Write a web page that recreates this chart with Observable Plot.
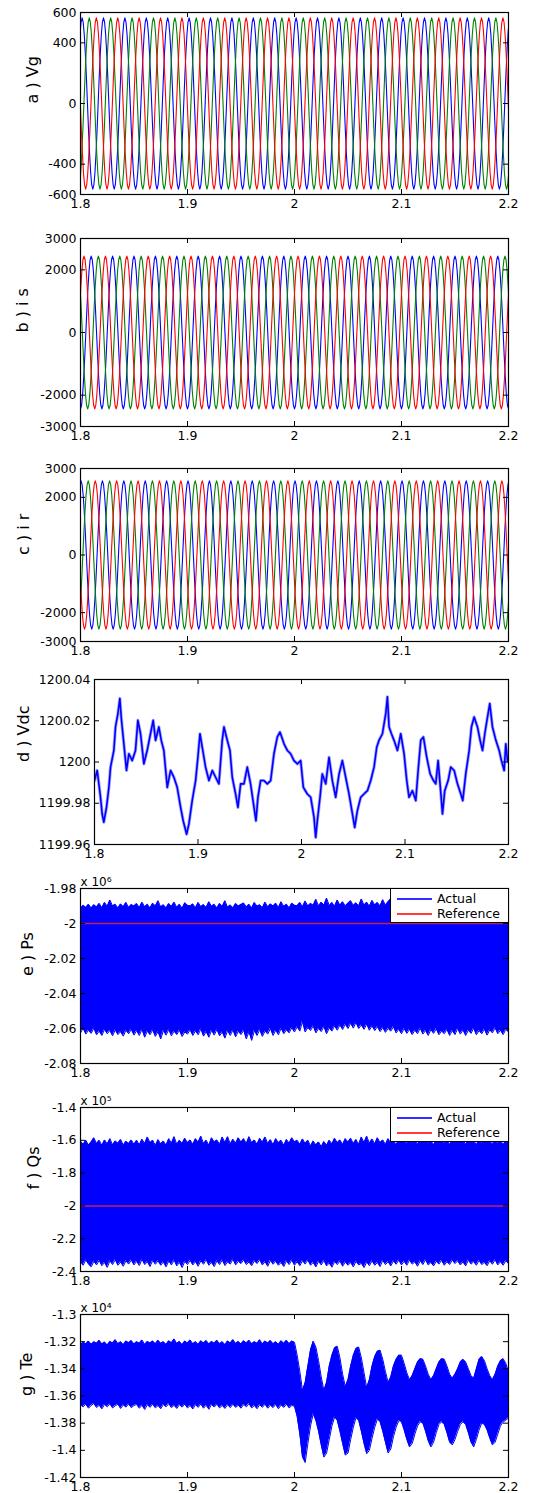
<!DOCTYPE html>
<html><head><meta charset="utf-8">
<script src="https://cdn.jsdelivr.net/npm/d3@7"></script>
<script src="https://cdn.jsdelivr.net/npm/@observablehq/plot@0.6"></script>
<style>
html,body{margin:0;padding:0;background:#fff;overflow:hidden;}
#root{position:relative;width:546px;height:1493px;font-family:"DejaVu Sans",sans-serif;}
.legend{position:absolute;background:#fff;border:1px solid #000;box-sizing:border-box;font-size:12.5px;}
.legend .row{position:absolute;left:0;right:0;height:16px;}
.legend .sw{position:absolute;left:6px;width:35px;top:7px;height:1.5px;}
.legend .lb{position:absolute;left:46px;top:0;line-height:16px;white-space:nowrap;}
</style></head><body><div id="root"></div><script>
// ---------- shared axis data ----------
const X0 = 1.8, X1 = 2.2;
const xTicks = [1.8, 1.9, 2, 2.1, 2.2];
const phaseColors = ["#0000ff", "#008000", "#ff0000"];
const sampleStep = 0.001; // seconds between waveform samples (20 per 0.02 s cycle)

// ---------- a) Vg : one sampled cycle (from the peak) + first peak time of each phase ----------
const vgCycle = [565, 537, 457, 332, 175, 0, -175, -332, -457, -537, -565, -537, -457, -332, -175, 0, 175, 332, 457, 537];
const vgFirstPeak = [1.8015, 1.8082, 1.8148];
const vgTicks = [-600, -400, 0, 400, 600];

// ---------- b) is ----------
const isCycle = [2440, 2321, 1974, 1434, 754, 0, -754, -1434, -1974, -2321, -2440, -2321, -1974, -1434, -754, 0, 754, 1434, 1974, 2321];
const isFirstPeak = [1.8100, 1.7967, 1.8033];
const isTicks = [-3000, -2000, 0, 2000, 3000];

// ---------- c) ir ----------
const irCycle = [2570, 2444, 2079, 1511, 794, 0, -794, -1511, -2079, -2444, -2570, -2444, -2079, -1511, -794, 0, 794, 1511, 2079, 2444];
const irFirstPeak = [1.8005, 1.8072, 1.8138];
const irTicks = [-3000, -2000, 0, 2000, 3000];

// ---------- d) Vdc ----------
const vdcT = [1.8000,1.8026,1.8058,1.8074,1.8090,1.8116,1.8139,1.8155,1.8187,1.8203,1.8226,1.8245,1.8258,1.8277,1.8290,1.8309,1.8332,1.8364,1.8396,1.8419,1.8445,1.8477,1.8509,1.8541,1.8567,1.8590,1.8622,1.8645,1.8670,1.8703,1.8735,1.8767,1.8799,1.8832,1.8857,1.8890,1.8912,1.8944,1.8977,1.8999,1.9019,1.9041,1.9073,1.9106,1.9138,1.9170,1.9202,1.9234,1.9251,1.9283,1.9309,1.9331,1.9363,1.9386,1.9412,1.9444,1.9476,1.9508,1.9541,1.9560,1.9579,1.9605,1.9637,1.9670,1.9702,1.9734,1.9766,1.9792,1.9831,1.9863,1.9895,1.9927,1.9960,1.9992,2.0018,2.0056,2.0089,2.0121,2.0137,2.0153,2.0179,2.0201,2.0234,2.0266,2.0298,2.0330,2.0363,2.0395,2.0427,2.0459,2.0492,2.0514,2.0540,2.0572,2.0604,2.0637,2.0669,2.0701,2.0727,2.0749,2.0782,2.0814,2.0830,2.0846,2.0869,2.0894,2.0927,2.0959,2.0991,2.1017,2.1039,2.1072,2.1104,2.1127,2.1152,2.1178,2.1210,2.1243,2.1275,2.1297,2.1320,2.1352,2.1362,2.1384,2.1417,2.1442,2.1475,2.1507,2.1539,2.1558,2.1587,2.1620,2.1642,2.1668,2.1700,2.1726,2.1749,2.1771,2.1797,2.1819,2.1845,2.1878,2.1910,2.1932,2.1958,2.1974,2.1990,2.2000];
const vdcV = [1199.9910,1199.9959,1199.9829,1199.9748,1199.9708,1199.9780,1199.9877,1199.9975,1200.0056,1200.0170,1200.0234,1200.0308,1200.0218,1200.0121,1200.0056,1199.9959,1200.0040,1200.0007,1200.0056,1200.0202,1200.0137,1199.9991,1200.0056,1200.0137,1200.0202,1200.0105,1200.0170,1200.0105,1200.0056,1199.9877,1199.9959,1199.9926,1199.9877,1199.9780,1199.9715,1199.9650,1199.9699,1199.9813,1199.9910,1200.0023,1200.0137,1200.0072,1199.9975,1199.9910,1199.9959,1199.9926,1199.9894,1200.0105,1200.0170,1200.0105,1200.0056,1199.9926,1199.9845,1199.9780,1199.9894,1199.9894,1199.9975,1199.9894,1199.9780,1199.9715,1199.9829,1199.9910,1199.9910,1199.9894,1199.9910,1200.0040,1200.0121,1200.0145,1200.0088,1200.0056,1200.0040,1200.0007,1199.9991,1200.0007,1199.9877,1199.9845,1199.9829,1199.9732,1199.9634,1199.9715,1199.9829,1199.9942,1199.9894,1200.0023,1199.9910,1199.9829,1199.9942,1200.0007,1199.9926,1199.9845,1199.9748,1199.9683,1199.9764,1199.9829,1199.9845,1199.9861,1199.9910,1199.9975,1200.0072,1200.0105,1200.0137,1200.0234,1200.0316,1200.0170,1200.0137,1200.0105,1200.0056,1200.0137,1200.0040,1199.9910,1199.9829,1199.9861,1199.9813,1199.9959,1200.0105,1200.0121,1200.0023,1199.9942,1199.9910,1199.9894,1200.0007,1199.9813,1199.9748,1199.9861,1199.9910,1199.9975,1199.9959,1199.9894,1199.9845,1199.9813,1199.9942,1200.0056,1200.0170,1200.0218,1200.0170,1200.0105,1200.0056,1200.0137,1200.0218,1200.0283,1200.0170,1200.0105,1200.0056,1200.0007,1199.9959,1200.0088,1200.0007,1199.9999];
const vdcTicks = [1199.96, 1199.98, 1200, 1200.02, 1200.04];

// ---------- e) Ps (x 10^6), envelopes sampled evenly across 1.8..2.2 ----------
const psHi = [-1.9915,-1.9895,-1.9908,-1.9890,-1.9912,-1.9893,-1.9905,-1.9885,-1.9910,-1.9880,-1.9902,-1.9866,-1.9900,-1.9890,-1.9912,-1.9888,-1.9904,-1.9880,-1.9908,-1.9892,-1.9900,
-1.9886,-1.9910,-1.9878,-1.9905,-1.9890,-1.9912,-1.9884,-1.9900,-1.9870,-1.9906,-1.9893,-1.9911,-1.9886,-1.9903,-1.9878,-1.9908,-1.9890,-1.9914,-1.9882,-1.9896,
-1.9900,-1.9888,-1.9910,-1.9880,-1.9904,-1.9892,-1.9909,-1.9876,-1.9902,-1.9890,-1.9912,-1.9885,-1.9903,-1.9870,-1.9907,-1.9894,-1.9911,-1.9886,-1.9900,-1.9892,
-1.9883,-1.9906,-1.9890,-1.9912,-1.9880,-1.9902,-1.9893,-1.9910,-1.9878,-1.9905,-1.9888,-1.9900,-1.9884,-1.9909,-1.9876,-1.9903,-1.9890,-1.9911,-1.9884,-1.9896,
-1.9898,-1.9880,-1.9904,-1.9872,-1.9900,-1.9885,-1.9896,-1.9862,-1.9900,-1.9878,-1.9895,-1.9855,-1.9898,-1.9880,-1.9902,-1.9866,-1.9896,-1.9876,-1.9900,-1.9884,
-1.9870,-1.9897,-1.9882,-1.9900,-1.9860,-1.9895,-1.9878,-1.9902,-1.9868,-1.9894,-1.9880,-1.9900,-1.9864,-1.9896,-1.9875,-1.9858,-1.9898,-1.9880,-1.9900,-1.9886,
-1.9885,-1.9905,-1.9880,-1.9900,-1.9888,-1.9906,-1.9878,-1.9902,-1.9890,-1.9908,-1.9882,-1.9900,-1.9887,-1.9905,-1.9880,-1.9902,-1.9890,-1.9906,-1.9884,-1.9898,
-1.9900,-1.9888,-1.9905,-1.9880,-1.9902,-1.9890,-1.9906,-1.9884,-1.9900,-1.9888,-1.9904,-1.9882,-1.9900,-1.9890,-1.9905,-1.9885,-1.9902,-1.9890,-1.9900,-1.9895];
const psLo = [-2.0625,-2.0600,-2.0632,-2.0610,-2.0628,-2.0598,-2.0636,-2.0615,-2.0640,-2.0605,-2.0630,-2.0612,-2.0642,-2.0608,-2.0635,-2.0618,-2.0644,-2.0610,-2.0630,-2.0605,-2.0638,
-2.0612,-2.0640,-2.0604,-2.0650,-2.0615,-2.0636,-2.0608,-2.0645,-2.0618,-2.0660,-2.0612,-2.0638,-2.0606,-2.0642,-2.0615,-2.0635,-2.0610,-2.0646,-2.0620,-2.0632,
-2.0608,-2.0640,-2.0614,-2.0636,-2.0602,-2.0644,-2.0618,-2.0650,-2.0610,-2.0638,-2.0605,-2.0642,-2.0620,-2.0655,-2.0612,-2.0640,-2.0608,-2.0648,-2.0616,-2.0635,
-2.0610,-2.0660,-2.0618,-2.0668,-2.0612,-2.0640,-2.0606,-2.0645,-2.0615,-2.0632,-2.0600,-2.0640,-2.0610,-2.0636,-2.0598,-2.0630,-2.0608,-2.0625,-2.0596,-2.0620,
-2.0590,-2.0615,-2.0560,-2.0620,-2.0595,-2.0612,-2.0585,-2.0625,-2.0600,-2.0618,-2.0588,-2.0630,-2.0598,-2.0615,-2.0585,-2.0610,-2.0580,-2.0606,-2.0575,-2.0600,
-2.0570,-2.0598,-2.0565,-2.0600,-2.0580,-2.0605,-2.0575,-2.0610,-2.0585,-2.0612,-2.0590,-2.0618,-2.0595,-2.0622,-2.0600,-2.0615,-2.0590,-2.0625,-2.0605,-2.0630,
-2.0600,-2.0628,-2.0606,-2.0635,-2.0610,-2.0630,-2.0598,-2.0632,-2.0612,-2.0640,-2.0606,-2.0628,-2.0602,-2.0636,-2.0615,-2.0630,-2.0605,-2.0640,-2.0612,-2.0635,
-2.0600,-2.0632,-2.0608,-2.0640,-2.0610,-2.0628,-2.0598,-2.0636,-2.0612,-2.0630,-2.0604,-2.0638,-2.0608,-2.0625,-2.0596,-2.0630,-2.0610,-2.0635,-2.0605,-2.0620];
const psRef = -2;
const psTicks = [-2.08, -2.06, -2.04, -2.02, -2, -1.98];

// ---------- f) Qs (x 10^5) ----------
const qsHi = [-1.605,-1.625,-1.600,-1.630,-1.610,-1.585,-1.620,-1.600,-1.632,-1.598,-1.622,-1.590,-1.628,-1.604,-1.618,-1.595,-1.630,-1.606,-1.620,-1.598,-1.625,
-1.600,-1.628,-1.594,-1.620,-1.580,-1.615,-1.600,-1.632,-1.596,-1.622,-1.605,-1.630,-1.590,-1.618,-1.578,-1.625,-1.600,-1.620,-1.588,-1.615,
-1.598,-1.625,-1.590,-1.612,-1.575,-1.620,-1.600,-1.630,-1.585,-1.610,-1.598,-1.625,-1.580,-1.615,-1.578,-1.622,-1.594,-1.618,-1.585,-1.612,
-1.590,-1.620,-1.578,-1.615,-1.598,-1.625,-1.588,-1.612,-1.580,-1.620,-1.596,-1.628,-1.590,-1.615,-1.600,-1.632,-1.595,-1.618,-1.585,-1.610,
-1.600,-1.625,-1.592,-1.620,-1.600,-1.635,-1.605,-1.628,-1.610,-1.640,-1.608,-1.630,-1.600,-1.622,-1.588,-1.615,-1.598,-1.625,-1.590,-1.612,
-1.588,-1.620,-1.595,-1.625,-1.580,-1.615,-1.575,-1.618,-1.592,-1.622,-1.585,-1.615,-1.598,-1.625,-1.590,-1.618,-1.600,-1.628,-1.594,-1.615,
-1.592,-1.622,-1.585,-1.618,-1.598,-1.625,-1.590,-1.615,-1.580,-1.620,-1.600,-1.628,-1.594,-1.615,-1.586,-1.620,-1.600,-1.625,-1.592,-1.618,
-1.588,-1.615,-1.598,-1.625,-1.590,-1.618,-1.600,-1.628,-1.594,-1.620,-1.586,-1.615,-1.600,-1.625,-1.592,-1.620,-1.598,-1.628,-1.600,-1.615];
const qsLo = [-2.340,-2.362,-2.330,-2.355,-2.372,-2.338,-2.360,-2.332,-2.365,-2.345,-2.375,-2.335,-2.358,-2.328,-2.362,-2.342,-2.368,-2.335,-2.355,-2.330,-2.360,
-2.338,-2.364,-2.325,-2.358,-2.340,-2.370,-2.332,-2.356,-2.335,-2.362,-2.342,-2.372,-2.336,-2.360,-2.330,-2.366,-2.345,-2.376,-2.338,-2.358,
-2.332,-2.360,-2.340,-2.368,-2.334,-2.356,-2.328,-2.362,-2.345,-2.370,-2.335,-2.358,-2.330,-2.364,-2.342,-2.355,-2.325,-2.360,-2.338,-2.352,
-2.330,-2.358,-2.342,-2.365,-2.335,-2.352,-2.328,-2.360,-2.340,-2.368,-2.332,-2.356,-2.338,-2.362,-2.345,-2.370,-2.335,-2.358,-2.330,-2.362,
-2.340,-2.365,-2.335,-2.355,-2.330,-2.362,-2.345,-2.372,-2.338,-2.360,-2.332,-2.366,-2.348,-2.374,-2.340,-2.358,-2.335,-2.368,-2.342,-2.362,
-2.345,-2.372,-2.338,-2.360,-2.350,-2.376,-2.342,-2.365,-2.335,-2.362,-2.345,-2.370,-2.332,-2.358,-2.340,-2.366,-2.336,-2.356,-2.330,-2.360,
-2.338,-2.362,-2.330,-2.355,-2.342,-2.368,-2.335,-2.358,-2.328,-2.360,-2.345,-2.366,-2.338,-2.355,-2.332,-2.362,-2.340,-2.358,-2.330,-2.352,
-2.335,-2.360,-2.342,-2.366,-2.330,-2.355,-2.340,-2.362,-2.332,-2.358,-2.345,-2.365,-2.335,-2.356,-2.328,-2.360,-2.340,-2.362,-2.334,-2.352];
const qsRef = -2;
const qsTicks = [-2.4, -2.2, -2, -1.8, -1.6, -1.4];

// ---------- g) Te (x 10^4) ----------
const teHi = [-1.3222,-1.3205,-1.3215,-1.3195,-1.3220,-1.3200,-1.3212,-1.3190,-1.3218,-1.3202,-1.3225,-1.3198,-1.3210,-1.3185,-1.3215,-1.3200,-1.3222,-1.3195,-1.3208,-1.3192,-1.3218,
-1.3200,-1.3212,-1.3188,-1.3220,-1.3198,-1.3210,-1.3195,-1.3216,-1.3190,-1.3212,-1.3200,-1.3220,-1.3194,-1.3208,-1.3180,-1.3214,-1.3198,-1.3222,-1.3196,
-1.3210,-1.3188,-1.3216,-1.3200,-1.3220,-1.3194,-1.3210,-1.3192,-1.3218,-1.3198,-1.3212,-1.3190,-1.3216,-1.3200,-1.3222,-1.3195,-1.3210,-1.3185,-1.3214,-1.3198,
-1.3218,-1.3194,-1.3210,-1.3190,-1.3216,-1.3200,-1.3212,-1.3186,-1.3218,-1.3196,-1.3210,-1.3192,-1.3216,-1.3200,-1.3220,-1.3194,-1.3212,-1.3190,-1.3215,-1.3196,-1.3205,
-1.3300,-1.3420,-1.3560,-1.3500,-1.3380,-1.3260,-1.3197,-1.3240,-1.3340,-1.3460,-1.3560,-1.3500,-1.3380,-1.3300,-1.3245,-1.3234,-1.3320,-1.3440,-1.3530,-1.3480,
-1.3380,-1.3300,-1.3250,-1.3240,-1.3320,-1.3430,-1.3540,-1.3480,-1.3380,-1.3310,-1.3270,-1.3263,-1.3330,-1.3420,-1.3500,-1.3460,-1.3380,-1.3330,-1.3300,-1.3300,
-1.3360,-1.3430,-1.3480,-1.3450,-1.3400,-1.3350,-1.3325,-1.3330,-1.3380,-1.3440,-1.3480,-1.3450,-1.3400,-1.3350,-1.3325,-1.3330,-1.3380,-1.3440,-1.3470,-1.3440,
-1.3400,-1.3350,-1.3330,-1.3350,-1.3400,-1.3450,-1.3470,-1.3400,-1.3330,-1.3310,-1.3340,-1.3400,-1.3450,-1.3480,-1.3440,-1.3380,-1.3340,-1.3325,-1.3360,-1.3420];
const teLo = [-1.3665,-1.3680,-1.3660,-1.3690,-1.3670,-1.3655,-1.3685,-1.3668,-1.3695,-1.3662,-1.3680,-1.3658,-1.3688,-1.3672,-1.3660,-1.3692,-1.3666,-1.3682,-1.3658,-1.3686,-1.3670,
-1.3662,-1.3690,-1.3668,-1.3700,-1.3664,-1.3684,-1.3660,-1.3688,-1.3670,-1.3694,-1.3662,-1.3680,-1.3656,-1.3686,-1.3668,-1.3692,-1.3664,-1.3682,-1.3660,
-1.3688,-1.3670,-1.3696,-1.3664,-1.3684,-1.3658,-1.3690,-1.3668,-1.3698,-1.3662,-1.3682,-1.3660,-1.3688,-1.3670,-1.3692,-1.3664,-1.3686,-1.3660,-1.3684,-1.3668,
-1.3690,-1.3662,-1.3680,-1.3656,-1.3688,-1.3670,-1.3694,-1.3664,-1.3684,-1.3660,-1.3690,-1.3668,-1.3686,-1.3662,-1.3694,-1.3666,-1.3684,-1.3660,-1.3688,-1.3670,-1.3675,
-1.3750,-1.3880,-1.4050,-1.4090,-1.3950,-1.3820,-1.3730,-1.3780,-1.3860,-1.3960,-1.4050,-1.4020,-1.3920,-1.3820,-1.3755,-1.3780,-1.3860,-1.3950,-1.4035,-1.4020,
-1.3920,-1.3830,-1.3760,-1.3780,-1.3860,-1.3950,-1.4025,-1.4000,-1.3910,-1.3830,-1.3770,-1.3790,-1.3860,-1.3940,-1.4020,-1.3990,-1.3900,-1.3830,-1.3780,-1.3790,
-1.3850,-1.3920,-1.3975,-1.3950,-1.3880,-1.3820,-1.3790,-1.3800,-1.3860,-1.3930,-1.3975,-1.3940,-1.3870,-1.3810,-1.3790,-1.3810,-1.3870,-1.3940,-1.3960,-1.3920,
-1.3860,-1.3810,-1.3790,-1.3810,-1.3870,-1.3940,-1.3975,-1.3920,-1.3850,-1.3800,-1.3810,-1.3850,-1.3910,-1.3960,-1.3940,-1.3880,-1.3820,-1.3790,-1.3780,-1.3760];
const teTicks = [-1.42, -1.4, -1.38, -1.36, -1.34, -1.32, -1.3];

// ---------- helpers ----------
function tile(cycle, firstPeak, phase) {
  const n = cycle.length, rows = [];
  const k0 = Math.floor((X0 - firstPeak) / sampleStep) - 1;
  const k1 = Math.ceil((X1 - firstPeak) / sampleStep) + 1;
  for (let k = k0; k <= k1; k++) rows.push({t: firstPeak + k * sampleStep, v: cycle[((k % n) + n) % n], phase});
  return rows;
}
function threePhase(cycle, peaks) {
  return peaks.map((p, i) => Plot.line(tile(cycle, p, i), {x: "t", y: "v", stroke: phaseColors[i], strokeWidth: 1.1, clip: true}));
}
function band(hi, lo) {
  const n = hi.length;
  return hi.map((h, i) => ({t: X0 + (X1 - X0) * i / (n - 1), hi: h, lo: lo[i]}));
}
function bandMarks(rows) {
  return [
    Plot.areaY(rows, {x: "t", y1: "lo", y2: "hi", fill: "#0000ff", clip: true}),
    Plot.line(rows, {x: "t", y: "hi", stroke: "#0000ff", strokeWidth: 1, clip: true}),
    Plot.line(rows, {x: "t", y: "lo", stroke: "#0000ff", strokeWidth: 1, clip: true})
  ];
}

const root = document.getElementById("root");
const fmt = d => String(d);

function addPanel(cfg) {
  const mt = 24, mb = 24;
  const left = cfg.left ?? 80, right = 508;
  const w = right - left, h = cfg.bottom - cfg.top;
  const marks = [
    ...cfg.marks,
    Plot.tickX(xTicks, {x: d => d, insetTop: h - 5, stroke: "#000"}),
    Plot.tickX(xTicks, {x: d => d, insetBottom: h - 5, stroke: "#000"}),
    Plot.tickY(cfg.yTicks, {y: d => d, insetRight: w - 5, stroke: "#000"}),
    Plot.tickY(cfg.yTicks, {y: d => d, insetLeft: w - 5, stroke: "#000"}),
    Plot.frame({stroke: "#000", strokeWidth: 1.2}),
    Plot.axisX(xTicks, {tickSize: 0, tickPadding: 5, tickFormat: fmt, label: null}),
    Plot.axisY(cfg.yTicks, {tickSize: 0, tickPadding: 4, tickFormat: fmt, label: null}),
    Plot.text([cfg.label], {text: d => d, frameAnchor: "left", dx: cfg.labelX - left, rotate: -90, fontSize: 16})
  ];
  if (cfg.exp) marks.push(Plot.text([cfg.exp], {text: d => d, frameAnchor: "top-left", textAnchor: "start", lineAnchor: "bottom", dy: -3, fontSize: 12}));
  const chart = Plot.plot({
    width: 546, height: h + mt + mb,
    marginTop: mt, marginBottom: mb, marginLeft: left, marginRight: 546 - right,
    style: {fontFamily: "'DejaVu Sans', sans-serif", fontSize: "12.5px", color: "#000", background: "transparent", overflow: "visible"},
    x: {domain: [X0, X1], label: null},
    y: {domain: cfg.yDomain, label: null},
    marks
  });
  chart.style.position = "absolute";
  chart.style.left = "0px";
  chart.style.top = (cfg.top - mt) + "px";
  root.appendChild(chart);
}

function addLegend(top) {
  const d = document.createElement("div");
  d.className = "legend";
  Object.assign(d.style, {left: "390px", top: top + "px", width: "119px", height: "35px"});
  d.innerHTML = `<div class="row" style="top:2px"><div class="sw" style="background:#2f2fff"></div><div class="lb">Actual</div></div>
  <div class="row" style="top:17px"><div class="sw" style="background:#ff3b3b"></div><div class="lb">Reference</div></div>`;
  root.appendChild(d);
}

// ---------- panels ----------
addPanel({top: 12, bottom: 194, yDomain: [-600, 600], yTicks: vgTicks, label: "a ) Vg", labelX: 32,
  marks: threePhase(vgCycle, vgFirstPeak)});
addPanel({top: 238, bottom: 426, yDomain: [-3000, 3000], yTicks: isTicks, label: "b ) i s", labelX: 22.5,
  marks: threePhase(isCycle, isFirstPeak)});
addPanel({top: 468, bottom: 641, yDomain: [-3000, 3000], yTicks: irTicks, label: "c ) i r", labelX: 23,
  marks: threePhase(irCycle, irFirstPeak)});
const vdcRows = vdcT.map((t, i) => ({t, v: vdcV[i]}));
addPanel({top: 679, bottom: 844, left: 94, yDomain: [1199.96, 1200.04], yTicks: vdcTicks, label: "d ) Vdc", labelX: 23,
  marks: [
    Plot.line(vdcRows, {x: "t", y: "v", stroke: "#5a5aff", strokeWidth: 3.2, strokeOpacity: 0.55, clip: true}),
    Plot.line(vdcRows, {x: "t", y: "v", stroke: "#0000ff", strokeWidth: 1.6, clip: true})
  ]});
addPanel({top: 888, bottom: 1063, yDomain: [-2.08, -1.98], yTicks: psTicks, label: "e ) Ps", labelX: 27.5, exp: "x 10\u2076",
  marks: [...bandMarks(band(psHi, psLo)), Plot.ruleY([psRef], {stroke: "#c0205a", strokeWidth: 1.5})]});
addPanel({top: 1107, bottom: 1271, yDomain: [-2.4, -1.4], yTicks: qsTicks, label: "f ) Qs", labelX: 33, exp: "x 10\u2075",
  marks: [...bandMarks(band(qsHi, qsLo)), Plot.ruleY([qsRef], {stroke: "#c0205a", strokeWidth: 1.5})]});
addPanel({top: 1314, bottom: 1477, yDomain: [-1.42, -1.3], yTicks: teTicks, label: "g ) Te", labelX: 26, exp: "x 10\u2074",
  marks: bandMarks(band(teHi, teLo))});
addLegend(888);
addLegend(1107);
</script></body></html>
